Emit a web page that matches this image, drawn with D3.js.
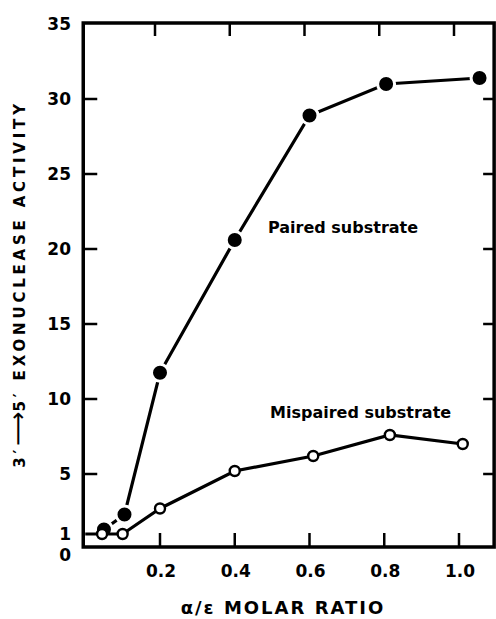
<!DOCTYPE html>
<html>
<head>
<meta charset="utf-8">
<script src="https://cdn.jsdelivr.net/npm/d3@7"></script>
<style>
  html, body { margin: 0; padding: 0; background: #fff; }
  text { font-family: "DejaVu Sans", sans-serif; font-weight: bold; fill: #000; }
</style>
</head>
<body>
<div id="chart"></div>
<script>
// data
const xTicks = [0.2, 0.4, 0.6, 0.8, 1.0];
const xTickLabels = ['0.2', '0.4', '0.6', '0.8', '1.0'];
const yTicks = [5, 10, 15, 20, 25, 30];
const yTickLabels = [0, 1, 5, 10, 15, 20, 25, 30, 35];

const pairedX = [0.05, 0.105, 0.2, 0.4, 0.6, 0.805, 1.055];
const pairedY = [1.3, 2.3, 11.75, 20.6, 28.9, 31.0, 31.4];

const mispairedX = [0, 0.045, 0.1, 0.2, 0.4, 0.61, 0.815, 1.01];
const mispairedY = [1.0, 1.0, 1.0, 2.7, 5.2, 6.2, 7.6, 7.0];

const width = 496, height = 619;

const svg = d3.select('#chart')
    .append('svg')
    .attr('width', width)
    .attr('height', height);

var x = d3.scaleLinear()
    .domain([0, 1])
    .range([85.25, 459]);

var y = d3.scaleLinear()
    .domain([0, 35])
    .range([549, 24]);

const xMax = 1.094;
const frameL = x(0) - 2, frameR = x(xMax), frameT = y(35) - 1, frameB = y(0) - 2;

// frame
svg.append('rect')
    .attr('x', frameL)
    .attr('y', frameT)
    .attr('width', frameR - frameL)
    .attr('height', frameB - frameT)
    .attr('fill', 'none')
    .attr('stroke', '#000')
    .attr('stroke-width', 3.5);

// ticks, all pointing inward
svg.selectAll('.tick-bottom')
    .data(xTicks)
    .enter()
    .append('line')
    .attr('x1', d => x(d)).attr('x2', d => x(d))
    .attr('y1', frameB).attr('y2', frameB - 14)
    .attr('stroke', '#000').attr('stroke-width', 2.5);

svg.selectAll('.tick-top')
    .data(xTicks)
    .enter()
    .append('line')
    .attr('x1', d => x(d) - 5).attr('x2', d => x(d) - 5)
    .attr('y1', frameT).attr('y2', frameT + 13)
    .attr('stroke', '#000').attr('stroke-width', 2.5);

svg.selectAll('.tick-left')
    .data(yTicks)
    .enter()
    .append('line')
    .attr('x1', frameL).attr('x2', frameL + 14)
    .attr('y1', d => y(d)).attr('y2', d => y(d))
    .attr('stroke', '#000').attr('stroke-width', 2.5);

svg.selectAll('.tick-right')
    .data(yTicks)
    .enter()
    .append('line')
    .attr('x1', frameR).attr('x2', frameR - 11)
    .attr('y1', d => y(d)).attr('y2', d => y(d))
    .attr('stroke', '#000').attr('stroke-width', 2.5);

// tick labels
svg.selectAll('.xlabel')
    .data(xTicks)
    .enter()
    .append('text')
    .attr('x', d => x(d) + 1)
    .attr('y', 577)
    .attr('text-anchor', 'middle')
    .style('font-size', '17px')
    .text((d, i) => xTickLabels[i]);

svg.selectAll('.ylabel')
    .data(yTickLabels)
    .enter()
    .append('text')
    .attr('x', 71)
    .attr('y', d => y(d) + (d === 0 ? 6 : 0))
    .attr('dy', '0.36em')
    .attr('text-anchor', 'end')
    .style('font-size', '17px')
    .text(d => d);

// axis titles
svg.append('text')
    .attr('text-anchor', 'middle')
    .attr('transform', 'translate(25,284) rotate(-90)')
    .style('font-size', '15px')
    .style('letter-spacing', '3.8px')
    .call(t => {
        t.append('tspan').text('3\u2032');
        t.append('tspan')
            .style('font-size', '24px')
            .style('font-weight', 'normal')
            .style('letter-spacing', '0px')
            .attr('dy', 1)
            .text('\u27F6');
        t.append('tspan').attr('dy', -1).text('5\u2032 EXONUCLEASE ACTIVITY');
    });

svg.append('text')
    .attr('x', 283)
    .attr('y', 614)
    .attr('text-anchor', 'middle')
    .style('font-size', '18px')
    .style('letter-spacing', '2px')
    .text('\u03B1/\u03B5 MOLAR RATIO');

// series
var paired = pairedX.map((d, i) => ({ x: d, y: pairedY[i] }));
var mispaired = mispairedX.map((d, i) => ({ x: d, y: mispairedY[i] }));

var line = d3.line()
    .x(d => x(d.x))
    .y(d => y(d.y));

svg.append('path')
    .datum(paired)
    .attr('d', line)
    .attr('fill', 'none')
    .attr('stroke', '#000')
    .attr('stroke-width', 3.2);

svg.selectAll('.dot-paired')
    .data(paired)
    .enter()
    .append('circle')
    .attr('cx', d => x(d.x))
    .attr('cy', d => y(d.y))
    .attr('r', 8.5)
    .attr('fill', '#000')
    .attr('stroke', '#fff')
    .attr('stroke-width', 3);

svg.append('path')
    .datum(mispaired)
    .attr('d', line)
    .attr('fill', 'none')
    .attr('stroke', '#000')
    .attr('stroke-width', 3.2);

svg.selectAll('.dot-mispaired')
    .data(mispaired.slice(1))
    .enter()
    .append('circle')
    .attr('cx', d => x(d.x))
    .attr('cy', d => y(d.y))
    .attr('r', 5)
    .attr('fill', '#fff')
    .attr('stroke', '#000')
    .attr('stroke-width', 2.4);

// series labels
svg.append('text')
    .attr('x', 268)
    .attr('y', 233)
    .style('font-size', '16px')
    .text('Paired substrate');

svg.append('text')
    .attr('x', 270)
    .attr('y', 418)
    .style('font-size', '16px')
    .text('Mispaired substrate');
</script>
</body>
</html>
